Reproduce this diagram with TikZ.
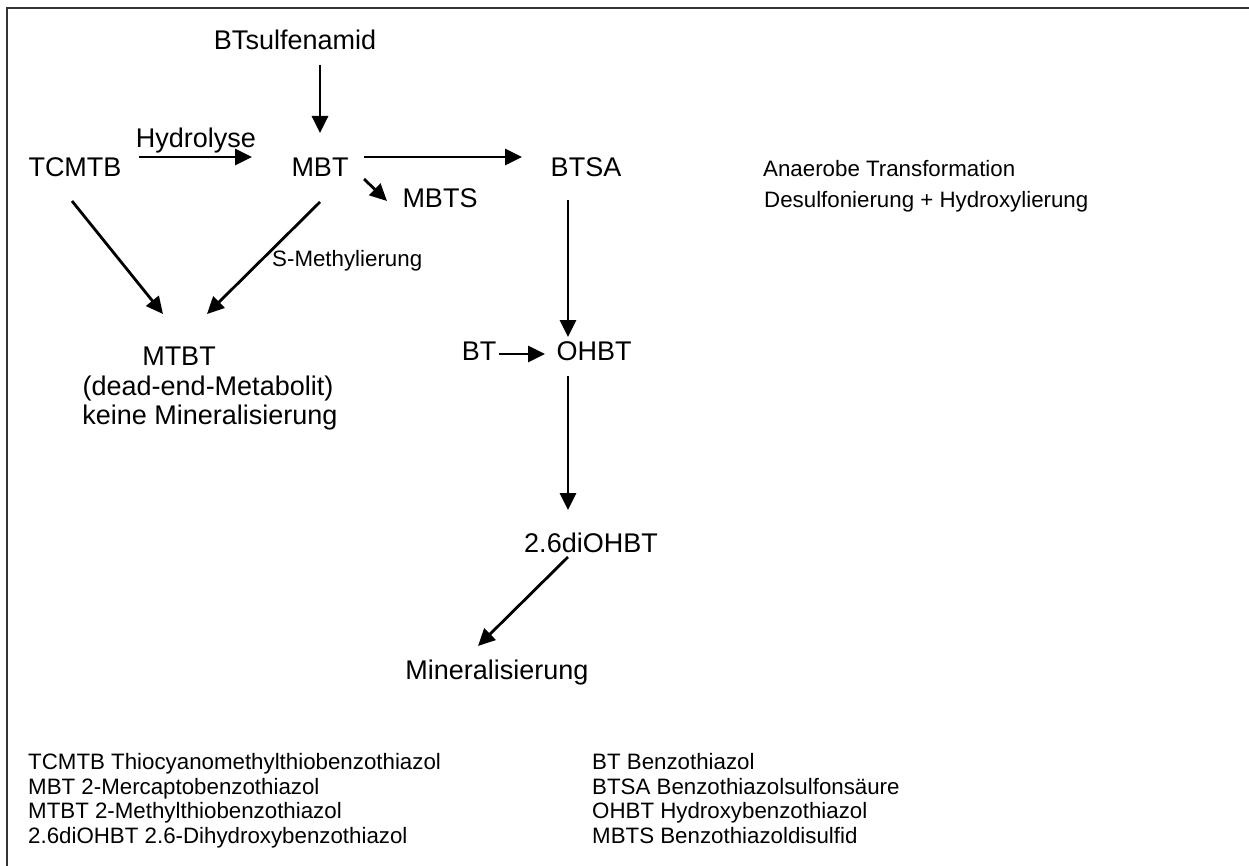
\documentclass[tikz,border=0pt]{standalone}
\usepackage{fontspec}
\setmainfont{Liberation Sans}
\usetikzlibrary{arrows.meta,calc}
\begin{document}
\begin{tikzpicture}[x=1pt,y=-1pt,
  big/.style={font=\fontsize{27}{30}\selectfont, inner sep=0pt, anchor=base},
  small/.style={font=\fontsize{22.3}{25}\selectfont, inner sep=0pt, anchor=base west},
  arr/.style={line width=2.8pt, -{Triangle[length=17pt,width=16pt]}},
  framestyle/.style={line width=2.2pt, black!80}]
\useasboundingbox (0,0) rectangle (1249,866);
% frame (only top and left visible)
\coordinate (fr0) at (1249,8);
\coordinate (fr1) at (7,8);
\coordinate (fr2) at (7,866);
\draw[framestyle] (fr0) -- (fr1) -- (fr2);

% main nodes
\node[big] (btsulf) at (295,50) {BTsulfenamid};
\node[big] (tcmtb) at (75,177) {TCMTB};
\node[big] (hydro) at (196,148) {Hydrolyse};
\node[big] (mbt) at (320,177) {MBT};
\node[big] (btsa) at (586,177) {BTSA};
\node[big] (mbts) at (440,208) {MBTS};
\node[small] (smeth) at (272,267) {S-Methylierung};
\node[big] (mtbt) at (179,365) {MTBT};
\node[big] (dead) at (208,395) {(dead-end-Metabolit)};
\node[big] (keine) at (210,424) {keine Mineralisierung};
\node[big] (bt) at (479,360) {BT};
\node[big] (ohbt) at (594,360) {OHBT};
\node[big] (diohbt) at (591,552) {2.6diOHBT};
\node[big] (mineral) at (497,679) {Mineralisierung};
\node[small] (anaer) at (763,177) {Anaerobe Transformation};
\node[small] (desulf) at (764,208) {Desulfonierung + Hydroxylierung};

% connectors
\draw[arr] ($(btsulf.base)+(25,15)$) -- ($(mbt.base)+(0,-44)$);
\draw[arr] ($(tcmtb.base)+(64,-20)$) -- ($(mbt.base)+(-68,-20)$);
\draw[arr] ($(mbt.base)+(44,-20)$) -- ($(btsa.base)+(-64,-20)$);
\draw[arr] ($(mbt.base)+(44,2)$) -- ($(mbts.base)+(-53,-7)$);
\draw[arr] ($(mbt.base)+(0,25)$) -- ($(mtbt.base)+(28,-51)$);
\draw[arr] ($(tcmtb.base)+(-3,24)$) -- ($(mtbt.base)+(-16,-51)$);
\draw[arr] ($(btsa.base)+(-18,23)$) -- ($(ohbt.base)+(-26,-23)$);
\draw[arr] ($(bt.base)+(20,-6)$) -- ($(ohbt.base)+(-49,-6)$);
\draw[arr] ($(ohbt.base)+(-26,16)$) -- ($(diohbt.base)+(-23,-42)$);
\draw[arr] ($(diohbt.base)+(-23,5)$) -- ($(mineral.base)+(-19,-33)$);

% legend
\node[small] (l1) at (28,769) {TCMTB Thiocyanomethylthiobenzothiazol};
\node[small] (l2) at (28,794) {MBT 2-Mercaptobenzothiazol};
\node[small] (l3) at (28,818) {MTBT 2-Methylthiobenzothiazol};
\node[small] (l4) at (28,843) {2.6diOHBT 2.6-Dihydroxybenzothiazol};
\node[small] (r1) at (592,769) {BT Benzothiazol};
\node[small] (r2) at (592,794) {BTSA Benzothiazolsulfonsäure};
\node[small] (r3) at (592,818) {OHBT Hydroxybenzothiazol};
\node[small] (r4) at (592,843) {MBTS Benzothiazoldisulfid};
\end{tikzpicture}
\end{document}
